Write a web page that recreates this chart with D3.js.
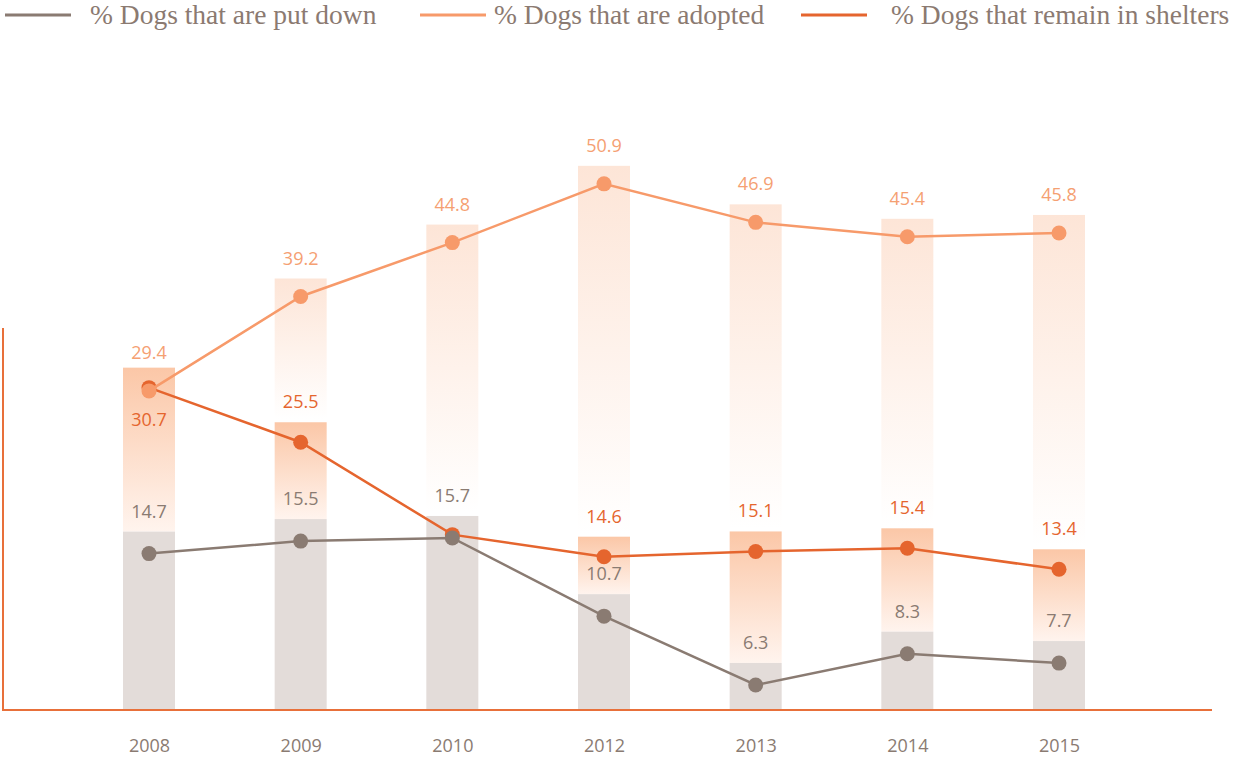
<!DOCTYPE html>
<html>
<head>
<meta charset="utf-8">
<script src="https://cdn.jsdelivr.net/npm/d3@7"></script>
<style>
  body { margin: 0; background: #fff; }
  svg { display: block; }
</style>
</head>
<body>
<svg id="chart"></svg>
<script>
// data
const years = ["2008", "2009", "2010", "2012", "2013", "2014", "2015"];
const putDown = [14.7, 15.5, 15.7, 10.7, 6.3, 8.3, 7.7];
const adopted = [29.4, 39.2, 44.8, 50.9, 46.9, 45.4, 45.8];
const remain = [30.7, 25.5, 16.7, 14.6, 15.1, 15.4, 13.4];
const legendLabels = ["% Dogs that are put down", "% Dogs that are adopted", "% Dogs that remain in shelters"];

const width = 1236;
const height = 758;
const baseY = 710;
const barW = 52;

const svg = d3.select("#chart").attr("width", width).attr("height", height);

const x = d3.scalePoint().domain(years).range([149, 1059]);

// every series sits on its own vertical scale in the original
const yDown = d3.scaleLinear().domain([0, 20]).range([783.5, 470.7]);
const yAdopt = d3.scaleLinear().domain([0, 60]).range([674, 96.2]);
const yRemain = d3.scaleLinear().domain([0, 40]).range([710, 290]);

const series = {
    down: { values: putDown, y: yDown, lift: 22, line: "#8a7b72", text: "#8a7b72" },
    adopt: { values: adopted, y: yAdopt, lift: 18, line: "#f79a6a", text: "#f5a072" },
    remain: { values: remain, y: yRemain, lift: 20, line: "#e5652e", text: "#e5652e" },
};

const rows = years.map((yr, i) => {
    const downTop = yDown(putDown[i]) - series.down.lift;
    const remainTop = yRemain(remain[i]) - series.remain.lift;
    const adoptTop = yAdopt(adopted[i]) - series.adopt.lift;
    return { yr, i, downTop, remainTop, adoptTop };
});

// gradients for the faded bars
const defs = svg.append("defs");
function fade(id, top, bottom) {
    const g = defs.append("linearGradient").attr("id", id)
        .attr("x1", 0).attr("y1", 0).attr("x2", 0).attr("y2", 1);
    g.append("stop").attr("offset", "0%").attr("stop-color", top);
    g.append("stop").attr("offset", "100%").attr("stop-color", bottom);
}
fade("gAdopt", "#fde5d7", "#ffffff");
fade("gRemain", "#fbc7a7", "#fff4ee");

const bars = svg.append("g");

// adopted bars: from their top down to the next bar below
bars.selectAll(".bAdopt")
    .data(rows)
    .enter()
    .append("rect")
    .attr("x", (d) => x(d.yr) - barW / 2)
    .attr("y", (d) => d.adoptTop)
    .attr("width", barW)
    .attr("height", (d) => Math.max(0, Math.min(d.remainTop, d.downTop) - 3 - d.adoptTop))
    .attr("fill", "url(#gAdopt)");

// remain bars, hidden when they barely stick out of the grey one
bars.selectAll(".bRemain")
    .data(rows)
    .enter()
    .append("rect")
    .attr("x", (d) => x(d.yr) - barW / 2)
    .attr("y", (d) => d.remainTop)
    .attr("width", barW)
    .attr("height", (d) => (d.downTop - d.remainTop > 4 ? d.downTop - d.remainTop : 0))
    .attr("fill", "url(#gRemain)");

bars.selectAll(".bDown")
    .data(rows)
    .enter()
    .append("rect")
    .attr("x", (d) => x(d.yr) - barW / 2)
    .attr("y", (d) => d.downTop)
    .attr("width", barW)
    .attr("height", (d) => baseY - d.downTop)
    .attr("fill", "#e3dcd9");

// axes
svg.append("line")
    .attr("x1", 3).attr("x2", 3).attr("y1", 328).attr("y2", baseY)
    .attr("stroke", "#e8703a").attr("stroke-width", 2);
svg.append("line")
    .attr("x1", 2).attr("x2", 1212).attr("y1", baseY).attr("y2", baseY)
    .attr("stroke", "#e8703a").attr("stroke-width", 2);

const xAxis = svg.append("g")
    .attr("transform", `translate(0,${baseY})`)
    .call(d3.axisBottom(x).tickSize(0).tickPadding(29));
xAxis.select(".domain").remove();
xAxis.selectAll("text")
    .attr("font-family", "'Open Sans', sans-serif")
    .attr("font-size", 18)
    .attr("fill", "#8a7b72");

// value labels
const labels = svg.append("g")
    .attr("font-family", "'Open Sans', sans-serif")
    .attr("font-size", 18)
    .attr("text-anchor", "middle");

labels.selectAll(".lAdopt")
    .data(rows)
    .enter()
    .append("text")
    .attr("x", (d) => x(d.yr))
    .attr("y", (d) => d.adoptTop - 14)
    .attr("fill", series.adopt.text)
    .text((d) => adopted[d.i]);

labels.selectAll(".lRemain")
    .data(rows.filter((d) => Math.abs(d.remainTop - d.downTop) > 8))
    .enter()
    .append("text")
    .attr("x", (d) => x(d.yr))
    .attr("y", (d) => {
        // move under the dot when it would sit on the adopted label
        if (Math.abs(d.remainTop - d.adoptTop) < 30) return yRemain(remain[d.i]) + 38;
        return d.remainTop - 14;
    })
    .attr("fill", series.remain.text)
    .text((d) => remain[d.i]);

labels.selectAll(".lDown")
    .data(rows)
    .enter()
    .append("text")
    .attr("x", (d) => x(d.yr))
    .attr("y", (d) => d.downTop - 14)
    .attr("fill", series.down.text)
    .text((d) => putDown[d.i]);

// lines and dots, remain first so the others sit on top
["remain", "down", "adopt"].forEach((key) => {
    const s = series[key];
    const line = d3.line()
        .x((d, i) => x(years[i]))
        .y((d) => s.y(d));
    const g = svg.append("g");
    g.append("path")
        .datum(s.values)
        .attr("d", line)
        .attr("fill", "none")
        .attr("stroke", s.line)
        .attr("stroke-width", 2.5);
    g.selectAll("circle")
        .data(s.values)
        .enter()
        .append("circle")
        .attr("cx", (d, i) => x(years[i]))
        .attr("cy", (d) => s.y(d))
        .attr("r", 7.5)
        .attr("fill", s.line);
});

// legend
const legendColors = [series.down.line, series.adopt.line, series.remain.line];
const legendLineX = [5, 420, 801];
const legendTextX = [90, 494, 891];
const legend = svg.append("g");
legendLabels.forEach((lab, i) => {
    legend.append("line")
        .attr("x1", legendLineX[i]).attr("x2", legendLineX[i] + 66)
        .attr("y1", 15).attr("y2", 15)
        .attr("stroke", legendColors[i]).attr("stroke-width", 3);
    legend.append("text")
        .attr("x", legendTextX[i]).attr("y", 24)
        .attr("font-family", "'Liberation Serif', serif")
        .attr("font-size", 27.5)
        .attr("fill", "#8b7a71")
        .text(lab);
});
</script>
</body>
</html>
